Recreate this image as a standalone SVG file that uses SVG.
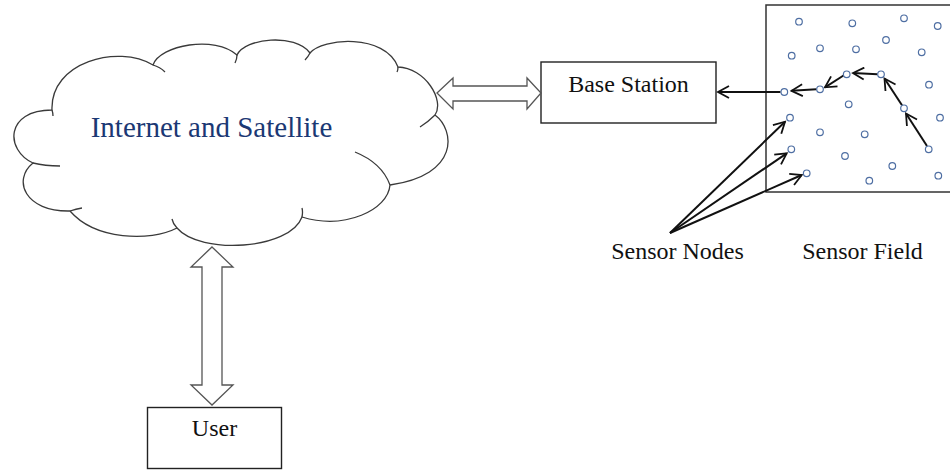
<svg xmlns="http://www.w3.org/2000/svg" width="950" height="470" viewBox="0 0 950 470">
<style>
.lbl{font-family:"Liberation Serif","Times New Roman",serif;font-size:24px;fill:#111;}
.cloudtxt{font-family:"Liberation Serif","Times New Roman",serif;font-size:29px;fill:#1b3874;}
.box{fill:#fff;stroke:#222;stroke-width:1.4;}
.cloud{fill:#fff;stroke:#3a3a3a;stroke-width:1.3;}
.tail{fill:none;stroke:#3a3a3a;stroke-width:1.3;}
.hollow{fill:#fff;stroke:#555;stroke-width:1.3;stroke-linejoin:miter;}
.sn{fill:#fff;stroke:#4f6fa3;stroke-width:1.2;}
.arr{stroke:#111;stroke-width:2;fill:none;marker-end:url(#open);}
</style>
<defs>
<marker id="open" viewBox="0 0 14 14" refX="12" refY="7" markerWidth="7" markerHeight="7" markerUnits="strokeWidth" orient="auto">
<path d="M1,1 L12,7 L1,13" fill="none" stroke="#111" stroke-width="1.8"/>
</marker>
</defs>
<g id="cloud">
<path class="cloud" d="M52,110 C50,62 118,44 153,65 C160,45 215,35 237,55 C245,38 295,33 310,53 C322,38 385,33 398,67 C425,68 445,100 435,115 C455,130 460,175 390,185 C388,210 345,230 302,217 C290,250 200,255 177,228 C150,242 95,240 70,211 C25,212 12,180 33,163 C5,150 5,110 52,110 Z"/>
<path class="tail" d="M153,65 Q160,67 165,72 M237,55 Q237,59 235,63 M310,53 Q308,57 305,60 M398,67 Q398,70 397,72 M435,115 Q428,122 420,127 M355,152 Q382,163 390,185 M302,217 Q303,212 302,208 M177,228 Q173,224 172,219 M70,211 Q76,209 82,208 M33,163 Q45,166 60,166 M52,110 Q53,113 53,116"/>
<text class="cloudtxt" x="90.7" y="137.3">Internet and Satellite</text>
</g>
<g id="base-station">
<rect class="box" x="541" y="62" width="175" height="61"/>
<text class="lbl" x="628.5" y="91.7" text-anchor="middle">Base Station</text>
</g>
<g id="user">
<rect class="box" x="147.5" y="407.5" width="134" height="61"/>
<text class="lbl" x="214.5" y="436" text-anchor="middle">User</text>
</g>
<g id="sensor-field">
<rect x="766" y="5" width="190" height="187" fill="none" stroke="#333" stroke-width="1.5"/>
<text class="lbl" x="862.5" y="259.3" text-anchor="middle">Sensor Field</text>
</g>
<g id="sensor-nodes-label">
<text class="lbl" x="677.5" y="259.3" text-anchor="middle">Sensor Nodes</text>
</g>
<g id="connectors">
<path class="hollow" d="M437,93 L453,78 L453,86 L527,86 L527,78 L541,93 L527,109 L527,101 L453,101 L453,109 Z"/>
<path class="hollow" d="M212,247 L233,267 L222,267 L222,385 L233,385 L212,405 L191,385 L202,385 L202,267 L191,267 Z"/>
<line class="arr" x1="780.5" y1="92" x2="718" y2="92"/>
<line class="arr" x1="816.5" y1="89.3" x2="791.5" y2="90.8"/>
<line class="arr" x1="843.5" y1="75.5" x2="825" y2="87.3"/>
<line class="arr" x1="877.5" y1="74.3" x2="853" y2="73"/>
<line class="arr" x1="902" y1="105.3" x2="884.5" y2="78.5"/>
<line class="arr" x1="927" y1="146" x2="906" y2="113.5"/>
<line class="arr" x1="670" y1="233" x2="785" y2="121.7"/>
<line class="arr" x1="670" y1="233" x2="786.7" y2="153.3"/>
<line class="arr" x1="670" y1="233" x2="801.7" y2="175"/>
</g>
<g id="sensors">
<circle class="sn" cx="799" cy="21.7" r="3.3"/>
<circle class="sn" cx="852.3" cy="23.3" r="3.3"/>
<circle class="sn" cx="904" cy="18.3" r="3.3"/>
<circle class="sn" cx="937.7" cy="26" r="3.3"/>
<circle class="sn" cx="791.7" cy="55.7" r="3.3"/>
<circle class="sn" cx="820" cy="48.3" r="3.3"/>
<circle class="sn" cx="856" cy="49.3" r="3.3"/>
<circle class="sn" cx="886" cy="40" r="3.3"/>
<circle class="sn" cx="921.7" cy="52.3" r="3.3"/>
<circle class="sn" cx="846.7" cy="74.3" r="3.3"/>
<circle class="sn" cx="881" cy="74.3" r="3.3"/>
<circle class="sn" cx="820" cy="89.3" r="3.3"/>
<circle class="sn" cx="784.3" cy="92" r="3.3"/>
<circle class="sn" cx="929" cy="84.7" r="3.3"/>
<circle class="sn" cx="848.7" cy="104.3" r="3.3"/>
<circle class="sn" cx="904" cy="108.3" r="3.3"/>
<circle class="sn" cx="940" cy="117.7" r="3.3"/>
<circle class="sn" cx="790" cy="117.7" r="3.3"/>
<circle class="sn" cx="820" cy="132.3" r="3.3"/>
<circle class="sn" cx="864.7" cy="134.3" r="3.3"/>
<circle class="sn" cx="791.3" cy="149.3" r="3.3"/>
<circle class="sn" cx="928.7" cy="149.3" r="3.3"/>
<circle class="sn" cx="845" cy="156" r="3.3"/>
<circle class="sn" cx="892.3" cy="166" r="3.3"/>
<circle class="sn" cx="806.7" cy="173.3" r="3.3"/>
<circle class="sn" cx="938.3" cy="175.7" r="3.3"/>
<circle class="sn" cx="869.3" cy="180.7" r="3.3"/>
</g>
</svg>
